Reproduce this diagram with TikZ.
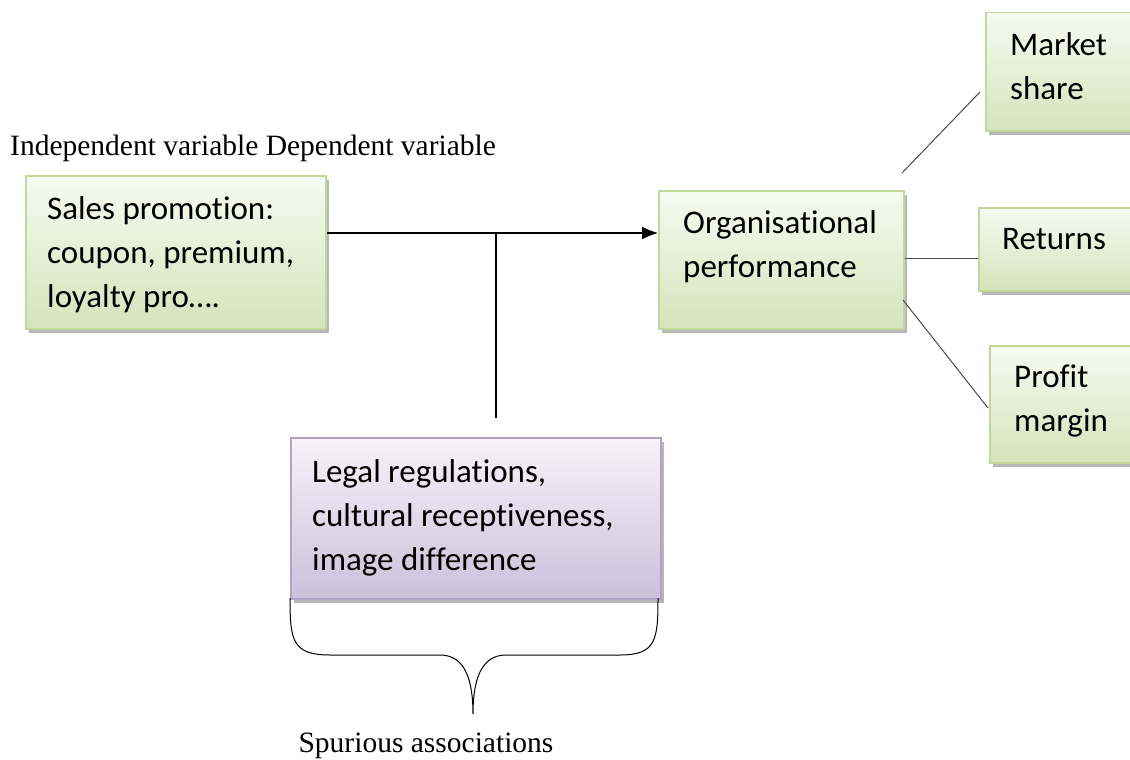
\documentclass[tikz,border=0pt]{standalone}
\usepackage{fontspec}
\setmainfont{Liberation Serif}
\newfontfamily\calib[Ligatures=NoCommon]{Carlito}
\usetikzlibrary{arrows.meta,shadows}
\definecolor{gborder}{HTML}{C3D69B}
\definecolor{gtop}{HTML}{F7FAF1}
\definecolor{gbot}{HTML}{D6E3BC}
\definecolor{pborder}{HTML}{B3A2C7}
\definecolor{ptop}{HTML}{F6F3FA}
\definecolor{pbot}{HTML}{CCC0DA}
\tikzset{
  boxbase/.style={rectangle, draw, line width=1.5pt, inner sep=0pt, anchor=north west,
    drop shadow={shadow xshift=3pt, shadow yshift=-4pt, fill=black!40, opacity=0.7}},
  gbox/.style={boxbase, draw=gborder, top color=gtop, bottom color=gbot},
  pbox/.style={boxbase, draw=pborder, top color=ptop, bottom color=pbot},
  btext/.style={font=\calib\fontsize{33}{44}\selectfont, align=left, anchor=west, inner sep=0pt},
  stext/.style={font=\fontsize{29.5}{34}\selectfont, inner sep=0pt},
  conn/.style={line width=1.4pt, black},
  thin/.style={line width=1pt, black!70},
}
\begin{document}
\begin{tikzpicture}[x=1pt,y=-1pt]
\useasboundingbox (0,0) rectangle (1130,760);
\fill[white] (0,0) rectangle (1130,760);
\clip (0,0) rectangle (1130,760);
% boxes
\node[gbox, minimum width=300pt, minimum height=153pt] (sp) at (25,175) {};
\node[gbox, minimum width=245pt, minimum height=138pt] (op) at (658,190) {};
\node[gbox, minimum width=160pt, minimum height=118pt] (ms) at (985,12) {};
\node[gbox, minimum width=170pt, minimum height=83pt] (re) at (978,207) {};
\node[gbox, minimum width=160pt, minimum height=117pt] (pm) at (989,345) {};
\node[pbox, minimum width=370pt, minimum height=161pt] (lr) at (290,437) {};
% texts
\node[btext] (spt) at (47,255) {Sales promotion:\\coupon, premium,\\loyalty pro\dots.};
\node[btext] (opt) at (683,247) {Organisational\\performance};
\node[btext] (mst) at (1010,66) {Market\\share};
\node[btext] (ret) at (1002,239) {Returns};
\node[btext] (pmt) at (1014,401) {Profit\\margin};
\node[btext] (lrt) at (312,518) {Legal regulations,\\cultural receptiveness,\\image difference};
\node[stext, anchor=west] (ivdv) at (10,148) {Independent variable Dependent variable};
\node[stext] (spa) at (426,746) {Spurious associations};
% connectors
\coordinate (j) at (496,233);
\coordinate (jd) at (496,418);
\draw[conn, -{Latex[length=16pt,width=13pt]}] (sp.east |- j) -- (op.west |- j);
\draw[conn] (j) -- (jd);
\coordinate (ms1) at (902,173);
\coordinate (ms2) at (980,92);
\draw[thin] (ms1) -- (ms2);
\draw[thin] (op.east |- 0,258) -- (re.west |- 0,258);
\coordinate (pm1) at (903,300);
\coordinate (pm2) at (988,408);
\draw[thin] (pm1) -- (pm2);
% brace
\coordinate (bl) at (290,598);
\coordinate (br) at (658,598);
\coordinate (bt) at (473,714);
\draw[line width=1pt] (bl) .. controls (290,640) and (292,655) .. (330,655) -- (440,655)
  .. controls (465,655) and (473,680) .. (bt)
  .. controls (473,680) and (481,655) .. (506,655) -- (620,655)
  .. controls (656,655) and (658,640) .. (br);
\end{tikzpicture}
\end{document}
